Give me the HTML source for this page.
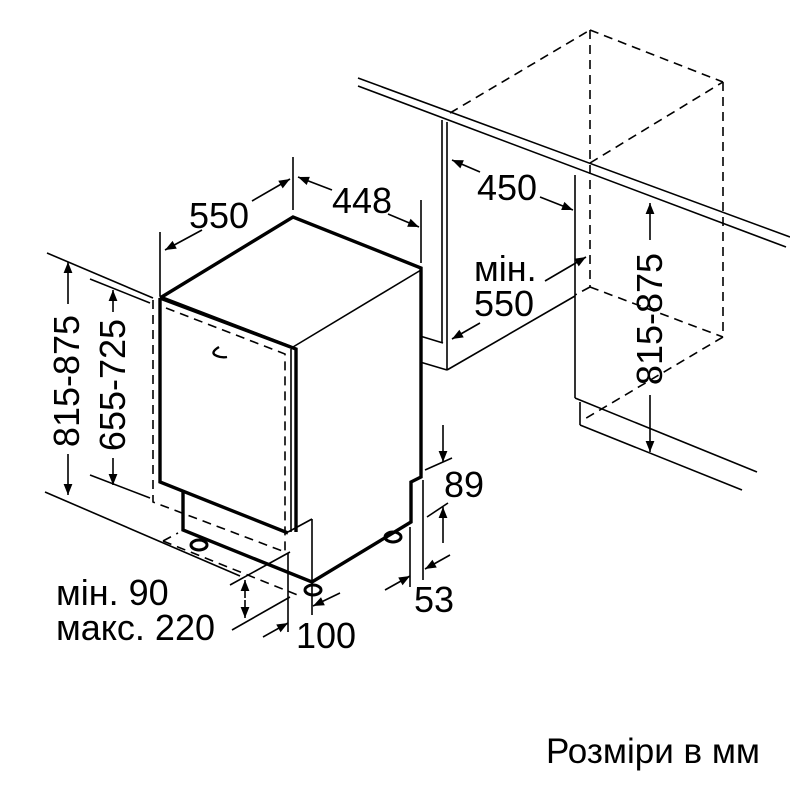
<!DOCTYPE html>
<html><head><meta charset="utf-8"><style>
html,body{margin:0;padding:0;background:#fff}
svg{display:block}
text{font-family:"Liberation Sans",Arial,sans-serif;fill:#000}
</style></head><body>
<svg width="790" height="790" viewBox="0 0 790 790" xmlns="http://www.w3.org/2000/svg">
<defs>
<marker id="a" viewBox="0 0 10 10" refX="10" refY="5" markerWidth="17" markerHeight="11" markerUnits="userSpaceOnUse" orient="auto">
<path d="M0,1 L10,5 L0,9 Z" fill="#000"/></marker>
</defs>
<g stroke="#000" fill="none" stroke-width="1.6">
<line x1="358" y1="78" x2="790" y2="237"/>
<line x1="358" y1="86" x2="786" y2="247"/>
<line x1="442" y1="120" x2="442" y2="343"/>
<line x1="447" y1="122" x2="447" y2="370"/>
<line x1="420" y1="336" x2="443" y2="343"/>
<line x1="420" y1="362" x2="447" y2="370"/>
<line x1="447" y1="370" x2="575" y2="296"/>
<line x1="575" y1="175" x2="575" y2="398"/>
<line x1="575" y1="398" x2="757" y2="472"/>
<line x1="580" y1="402" x2="580" y2="425"/>
<line x1="580" y1="425" x2="742" y2="490"/>
<line x1="47" y1="253" x2="153" y2="298"/>
<line x1="90" y1="279" x2="150" y2="303"/>
<line x1="90" y1="475" x2="150" y2="498"/>
<line x1="45" y1="492" x2="240" y2="576"/>
<line x1="160" y1="232" x2="160" y2="296"/>
<line x1="293" y1="157" x2="293" y2="210"/>
<line x1="421" y1="200" x2="421" y2="263"/>
<line x1="230" y1="585" x2="290" y2="552"/>
<line x1="232" y1="630" x2="290" y2="597"/>
<line x1="288" y1="553" x2="288" y2="632"/>
<line x1="312" y1="582" x2="312" y2="615"/>
<line x1="423" y1="480" x2="423" y2="580"/>
<line x1="410" y1="527" x2="410" y2="587"/>
<line x1="425" y1="470" x2="452" y2="458"/>
<line x1="427" y1="517" x2="448" y2="503"/>
<line x1="160" y1="296" x2="293" y2="347"/>
<line x1="293" y1="347" x2="421" y2="270"/>
<line x1="291" y1="349" x2="291" y2="532"/>
<line x1="288" y1="532" x2="312" y2="519"/>
<line x1="312" y1="519" x2="312" y2="582"/>
</g>
<g stroke="#000" fill="none" stroke-width="3.4" stroke-linejoin="miter">
<polyline points="160,298 293,217 421,268 421,477 411,482 411,522 312,582 183,530 183,492"/>
<polyline points="160,298 160,482 288,533"/>
<polyline points="160,298 296,349 296,532"/>
<path d="M219,347 q-10,6 -2,9 q5,2 10,1" stroke-width="2.4"/>
<ellipse cx="199" cy="545" rx="8" ry="5" stroke-width="3"/>
<ellipse cx="313" cy="590" rx="8" ry="5" stroke-width="3"/>
<ellipse cx="393" cy="537" rx="8" ry="5" stroke-width="3"/>
</g>
<g stroke="#000" fill="none" stroke-width="1.6" stroke-dasharray="9,6">
<polyline points="153,300 153,502 285,552"/>
<polyline points="166,308 285,354 285,552"/>
<line x1="163" y1="541" x2="300" y2="596"/>
<line x1="163" y1="541" x2="178" y2="533"/>
<line x1="450" y1="113" x2="590" y2="30"/>
<line x1="590" y1="30" x2="723" y2="82"/>
<line x1="590" y1="163" x2="723" y2="82"/>
<line x1="590" y1="30" x2="590" y2="287"/>
<line x1="723" y1="82" x2="723" y2="337"/>
<line x1="590" y1="287" x2="723" y2="337"/>
<line x1="723" y1="337" x2="583" y2="420"/>
<line x1="590" y1="287" x2="575" y2="295"/>
</g>
<g stroke="#000" fill="none" stroke-width="1.6" marker-end="url(#a)">
<line x1="202" y1="230" x2="165" y2="250"/>
<line x1="252" y1="201" x2="290" y2="179"/>
<line x1="332" y1="190" x2="298" y2="177"/>
<line x1="388" y1="214" x2="419" y2="227"/>
<line x1="68" y1="304" x2="68" y2="262"/>
<line x1="68" y1="454" x2="68" y2="495"/>
<line x1="113" y1="312" x2="113" y2="290"/>
<line x1="113" y1="458" x2="113" y2="485"/>
<line x1="480" y1="172" x2="452" y2="160"/>
<line x1="540" y1="197" x2="573" y2="210"/>
<line x1="545" y1="281" x2="586" y2="257"/>
<line x1="480" y1="323" x2="452" y2="339"/>
<line x1="650" y1="240" x2="650" y2="203"/>
<line x1="650" y1="395" x2="650" y2="452"/>
<line x1="443" y1="425" x2="443" y2="462"/>
<line x1="443" y1="543" x2="443" y2="507"/>
<line x1="385" y1="590" x2="410" y2="576"/>
<line x1="450" y1="555" x2="425" y2="569"/>
<line x1="263" y1="637" x2="288" y2="623"/>
<line x1="340" y1="593" x2="313" y2="606"/>
<line x1="245" y1="598" x2="245" y2="580"/>
<line x1="245" y1="600" x2="245" y2="618"/>
</g>
<g font-size="36">
<text x="189" y="228">550</text>
<text x="332" y="213">448</text>
<text x="477" y="200">450</text>
<text x="474" y="281">мін.</text>
<text x="474" y="316">550</text>
<text x="444" y="497">89</text>
<text x="414" y="612">53</text>
<text x="296" y="648">100</text>
<text x="56" y="605">мін. 90</text>
<text x="56" y="640">макс. 220</text>
<text transform="translate(79,381) rotate(-90)" text-anchor="middle">815-875</text>
<text transform="translate(125,385) rotate(-90)" text-anchor="middle">655-725</text>
<text transform="translate(662,319) rotate(-90)" text-anchor="middle">815-875</text>
</g>
<text x="546" y="763" font-size="35">Розміри в мм</text>
</svg>
</body></html>
